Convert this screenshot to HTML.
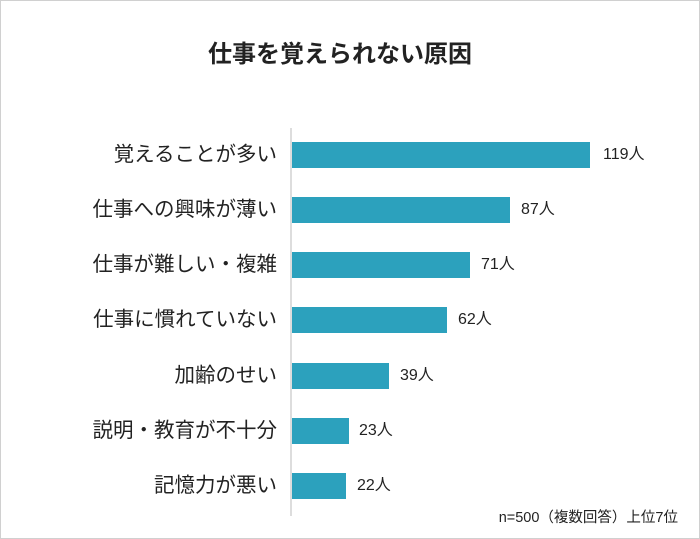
<!DOCTYPE html>
<html><head><meta charset="utf-8"><style>
body{margin:0;background:#fff}
.w{position:relative;width:698px;height:537px;border:1px solid #d0d0d0;overflow:hidden;font-family:"Liberation Sans","Noto Sans CJK JP",sans-serif;color:#222}
.t{position:absolute;top:33px;left:-10px;width:100%;text-align:center;font-size:24px;font-weight:bold}
.ax{position:absolute;left:289px;top:127px;width:2px;height:388px;background:#ddd}
.b{position:absolute;left:291px;height:26px;background:#2ca1bd}
.l{position:absolute;right:422px;font-size:20.5px;line-height:26px;white-space:nowrap}
.v{position:absolute;font-size:16px;line-height:26px}
.n{position:absolute;right:21px;top:505px;font-size:14.5px}
</style></head><body><div class="w">
<div class="t">仕事を覚えられない原因</div>
<div class="ax"></div>
<div class="l" style="top:141px">覚えることが多い</div><div class="b" style="top:141px;width:298px"></div><div class="v" style="top:141px;left:602px">119人</div>
<div class="l" style="top:196px">仕事への興味が薄い</div><div class="b" style="top:196px;width:218px"></div><div class="v" style="top:196px;left:520px">87人</div>
<div class="l" style="top:251px">仕事が難しい・複雑</div><div class="b" style="top:251px;width:178px"></div><div class="v" style="top:251px;left:480px">71人</div>
<div class="l" style="top:306px">仕事に慣れていない</div><div class="b" style="top:306px;width:155px"></div><div class="v" style="top:306px;left:457px">62人</div>
<div class="l" style="top:362px">加齢のせい</div><div class="b" style="top:362px;width:97px"></div><div class="v" style="top:362px;left:399px">39人</div>
<div class="l" style="top:417px">説明・教育が不十分</div><div class="b" style="top:417px;width:57px"></div><div class="v" style="top:417px;left:358px">23人</div>
<div class="l" style="top:472px">記憶力が悪い</div><div class="b" style="top:472px;width:54px"></div><div class="v" style="top:472px;left:356px">22人</div>
<div class="n">n=500（複数回答）上位7位</div>
</div></body></html>
